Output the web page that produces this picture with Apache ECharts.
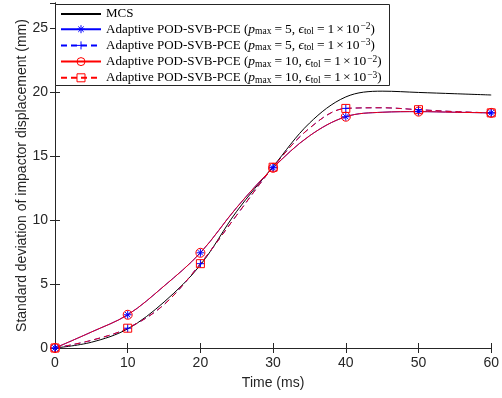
<!DOCTYPE html>
<html><head><meta charset="utf-8">
<script src="https://cdn.jsdelivr.net/npm/echarts@6/dist/echarts.min.js"></script>
<style>html,body{margin:0;padding:0;background:#fff}#c{width:502px;height:398px}</style>
</head><body><div id="c"></div>
<script>
// ---- data ----
const time    = [0, 5, 10, 15, 20, 25, 30, 35, 40, 45, 50, 55, 60];
const mcs     = [0, 0.45, 1.5, 3.6, 6.5, 10.7, 14.2, 17.6, 19.65, 20.1, 20.0, 19.9, 19.8];
const p5tol2  = [0, 1.25, 2.6, 4.85, 7.45, 11.0, 14.1, 16.6, 18.1, 18.45, 18.5, 18.45, 18.4];
const p5tol3  = [0, 0.6, 1.55, 3.4, 6.6, 10.4, 14.15, 17.2, 18.75, 18.8, 18.65, 18.5, 18.4];
const p10tol2 = [0, 1.25, 2.6, 4.85, 7.45, 11.0, 14.1, 16.6, 18.1, 18.45, 18.5, 18.45, 18.4];
const p10tol3 = [0, 0.6, 1.55, 3.4, 6.6, 10.4, 14.15, 17.2, 18.75, 18.8, 18.65, 18.5, 18.4];
const markerTimes = [0, 10, 20, 30, 40, 50, 60];
const seriesNames = ['MCS', 'A1', 'A2', 'A3', 'A4'];
const pMax = {A1: '5', A2: '5', A3: '10', A4: '10'};
const tolExp = {A1: '−2', A2: '−3', A3: '−2', A4: '−3'};
const legendLabel = n => n === 'MCS' ? '{n|MCS}' :
  '{n|Adaptive POD-SVB-PCE (}{i|p}{s|max}{e|=}{m|' + pMax[n] + ', }{i|ϵ}{s|tol}{e|=}{m|1}{x|×}{m|10}{u|' + tolExp[n] + '}{n|)}';
const xTicks = [0, 10, 20, 30, 40, 50, 60];
const yTicks = [0, 5, 10, 15, 20, 25];

const pairs = arr => time.map((t, i) => [t, arr[i]]);
const markSize = s => (v) => markerTimes.indexOf(v[0]) >= 0 ? s : 0;
const ASTER = 'path://M5,0L5,10M0,5L10,5M1.6,1.6L8.4,8.4M8.4,1.6L1.6,8.4';
const PLUS = 'path://M5,0L5,10M0,5L10,5';
const AX = '#262626';
const SERIF = 'Liberation Serif';

const chart = echarts.init(document.getElementById('c'));
const axisCommon = {
  type: 'value',
  axisLine: {show: true, lineStyle: {color: AX, width: 1}},
  axisTick: {show: true, inside: true, length: 5, lineStyle: {color: AX}},
  splitLine: {show: false}
};
chart.setOption({
  animation: false,
  backgroundColor: '#fff',
  grid: {left: 55, right: 10, top: 3, bottom: 50},
  graphic: [{
    type: 'rect', left: 55, top: 4, z: 5,
    shape: {width: 334, height: 81},
    style: {fill: '#fff', stroke: AX, lineWidth: 1}
  }],
  xAxis: [
    Object.assign({}, axisCommon, {
      position: 'bottom', min: 0, max: 60, interval: 10,
      axisLabel: {fontFamily: 'Liberation Sans', fontSize: 14, color: AX, margin: 8},
      name: 'Time (ms)', nameLocation: 'middle', nameGap: 28, nameMoveOverlap: false,
      nameTextStyle: {fontFamily: 'Liberation Sans', fontSize: 14, color: AX}
    }),
    Object.assign({}, axisCommon, {position: 'top', min: 0, max: 60, interval: 10, axisLabel: {show: false}})
  ],
  yAxis: [
    Object.assign({}, axisCommon, {
      position: 'left', min: 0, max: 27, interval: 5,
      axisLabel: {fontFamily: 'Liberation Sans', fontSize: 14, color: AX, margin: 7, showMaxLabel: false},
      name: 'Standard deviation of impactor displacement (mm)', nameLocation: 'middle', nameGap: 26, nameMoveOverlap: false,
      nameTextStyle: {fontFamily: 'Liberation Sans', fontSize: 14, color: AX}
    }),
    Object.assign({}, axisCommon, {position: 'right', min: 0, max: 27, interval: 5, axisLabel: {show: false}})
  ],
  legend: {
    orient: 'vertical', left: 56, top: 6.5, z: 10,
    padding: [1, 4, 1, 4], itemGap: 1.2, itemWidth: 40, itemHeight: 10,
    backgroundColor: 'transparent', borderWidth: 0,
    data: seriesNames,
    formatter: legendLabel,
    itemStyle: {borderWidth: 1},
    lineStyle: {opacity: 1},
    textStyle: {
      fontFamily: SERIF, fontSize: 13, color: '#000',
      rich: {
        n: {fontFamily: SERIF, fontSize: 13, color: '#000', lineHeight: 15},
        m: {fontFamily: SERIF, fontSize: 13.5, color: '#000', lineHeight: 15},
        e: {fontFamily: SERIF, fontSize: 13.5, color: '#000', lineHeight: 15, padding: [0, 3, 0, 3]},
        x: {fontFamily: SERIF, fontSize: 13.5, color: '#000', lineHeight: 15, padding: [0, 2, 0, 2]},
        i: {fontFamily: SERIF, fontStyle: 'italic', fontSize: 13.5, color: '#000', lineHeight: 15},
        s: {fontFamily: SERIF, fontSize: 9.5, color: '#000', lineHeight: 9, verticalAlign: 'bottom'},
        u: {fontFamily: SERIF, fontSize: 9.5, color: '#000', lineHeight: 9, verticalAlign: 'top', padding: [0, 0, 0, 1]}
      }
    }
  },
  series: [
    {name: 'MCS', type: 'line', data: pairs(mcs), smooth: 0.35, symbol: 'none',
     lineStyle: {color: '#000', width: 1}, itemStyle: {color: 'rgba(0,0,0,0)', borderColor: 'rgba(0,0,0,0)', borderWidth: 0}},
    {name: 'A1', type: 'line', data: pairs(p5tol2), smooth: 0.35, symbol: ASTER, symbolSize: markSize(8), showAllSymbol: true, clip: false,
     lineStyle: {color: '#0000ff', width: 1}, itemStyle: {color: 'rgba(0,0,0,0)', borderColor: '#0000ff', borderWidth: 1}},
    {name: 'A2', type: 'line', data: pairs(p5tol3), smooth: 0.35, symbol: PLUS, symbolSize: markSize(8), showAllSymbol: true, clip: false,
     lineStyle: {color: '#0000ff', width: 1, type: [6, 4]}, itemStyle: {color: 'rgba(0,0,0,0)', borderColor: '#0000ff', borderWidth: 1}},
    {name: 'A3', type: 'line', data: pairs(p10tol2), smooth: 0.35, symbol: 'circle', symbolSize: markSize(9), showAllSymbol: true, clip: false,
     lineStyle: {color: '#ff0000', width: 1, opacity: 0.9}, itemStyle: {color: 'rgba(0,0,0,0)', borderColor: '#ff0000', borderWidth: 1}},
    {name: 'A4', type: 'line', data: pairs(p10tol3), smooth: 0.35, symbol: 'rect', symbolSize: markSize(8), showAllSymbol: true, clip: false,
     lineStyle: {color: '#ff0000', width: 1, type: [6, 4], opacity: 0.9}, itemStyle: {color: 'rgba(0,0,0,0)', borderColor: '#ff0000', borderWidth: 1}}
  ]
});
</script></body></html>
